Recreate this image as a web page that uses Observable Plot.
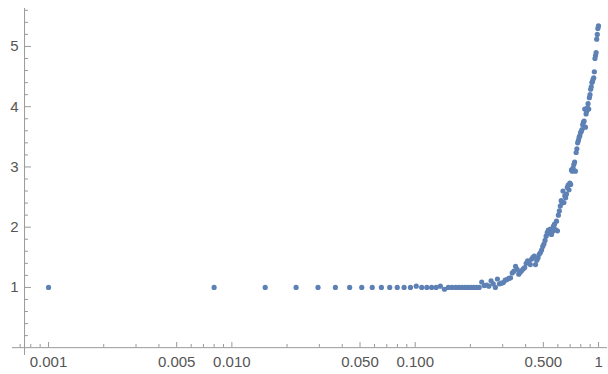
<!DOCTYPE html>
<html>
<head>
<meta charset="utf-8">
<script src="https://cdn.jsdelivr.net/npm/d3@7"></script>
<script src="https://cdn.jsdelivr.net/npm/@observablehq/plot@0.6"></script>
<style>
  html, body { margin: 0; padding: 0; background: #fff; }
  svg { display: block; }
</style>
</head>
<body>
<div id="chart"></div>
<script>
const xValues = [0.001,
  0.0080, 0.0152, 0.0224, 0.0295, 0.0367, 0.0439, 0.0511, 0.0583, 0.0654, 0.0726,
  0.0798, 0.0870, 0.0942, 0.1013, 0.1085, 0.1157, 0.1229, 0.1301, 0.1372, 0.1444,
  0.1516, 0.1588, 0.1660, 0.1731, 0.1803, 0.1875, 0.1947, 0.2019, 0.2090, 0.2162,
  0.2234, 0.2306, 0.2378, 0.2449, 0.2521, 0.2593, 0.2665, 0.2737, 0.2808, 0.2880,
  0.2952, 0.3024, 0.3096, 0.3167, 0.3239, 0.3311, 0.3383, 0.3455, 0.3526, 0.3598,
  0.3670, 0.3742, 0.3814, 0.3885, 0.3957, 0.4029, 0.4101, 0.4173, 0.4244, 0.4316,
  0.4388, 0.4460, 0.4532, 0.4603, 0.4675, 0.4747, 0.4819, 0.4891, 0.4962, 0.5034,
  0.5106, 0.5178, 0.5250, 0.5321, 0.5393, 0.5465, 0.5537, 0.5609, 0.5680, 0.5752,
  0.5824, 0.5896, 0.5968, 0.6039, 0.6111, 0.6183, 0.6255, 0.6327, 0.6398, 0.6470,
  0.6542, 0.6614, 0.6686, 0.6757, 0.6829, 0.6901, 0.6973, 0.7045, 0.7116, 0.7188,
  0.7260, 0.7332, 0.7404, 0.7475, 0.7547, 0.7619, 0.7691, 0.7763, 0.7834, 0.7906,
  0.7978, 0.8050, 0.8122, 0.8193, 0.8265, 0.8337, 0.8409, 0.8481, 0.8552, 0.8624,
  0.8696, 0.8768, 0.8840, 0.8911, 0.8983, 0.9055, 0.9127, 0.9199, 0.9270, 0.9342,
  0.9414, 0.9486, 0.9558, 0.9629, 0.9701, 0.9773, 0.9845, 0.9917, 0.9989];

const yValues = [1,
  1, 1, 1, 1, 1, 1, 1, 1, 1, 1,
  1, 1, 1, 1.02, 1, 1, 1, 1, 1.02, 0.97,
  1, 1, 1, 1, 1, 1, 1, 1, 1, 1,
  1.0, 1.09, 1.03, 1.04, 1.02, 1.11, 1.06, 1.0, 1.14, 1.06,
  1.07, 1.08, 1.12, 1.13, 1.15, 1.16, 1.24, 1.27, 1.35, 1.30,
  1.22, 1.25, 1.28, 1.31, 1.33, 1.40, 1.44, 1.42, 1.38, 1.47,
  1.50, 1.52, 1.38, 1.45, 1.49, 1.55, 1.58, 1.62, 1.68, 1.72,
  1.78, 1.85, 1.91, 1.95, 1.90, 1.97, 1.88, 1.93, 2.02, 2.05,
  1.96, 2.10, 1.94, 2.20, 2.27, 2.35, 2.44, 2.40, 2.60, 2.41,
  2.52, 2.49, 2.55, 2.66, 2.70, 2.62, 2.73, 2.71, 2.95, 2.93,
  2.98, 3.04, 3.08, 2.93, 3.24, 3.30, 3.40, 3.44, 3.49, 3.52,
  3.57, 3.59, 3.62, 3.70, 3.74, 3.76, 3.96, 3.66, 3.88, 3.93,
  3.98, 4.05, 3.96, 4.15, 4.20, 4.29, 4.33, 4.40, 4.42, 4.46,
  4.48, 4.58, 4.80, 4.85, 4.90, 5.12, 5.20, 5.30, 5.34];

const xMajorTicks = [0.001, 0.005, 0.01, 0.05, 0.1, 0.5, 1];
const xTickLabels = ["0.001", "0.005", "0.010", "0.050", "0.100", "0.500", "1"];
const xMinorTicks = [0.0007, 0.0008, 0.0009, 0.002, 0.003, 0.004, 0.006, 0.007, 0.008, 0.009,
  0.02, 0.03, 0.04, 0.06, 0.07, 0.08, 0.09, 0.2, 0.3, 0.4, 0.6, 0.7, 0.8, 0.9];
const yMajorTicks = [1, 2, 3, 4, 5];
const yTickLabels = ["1", "2", "3", "4", "5"];
const yMinorTicks = [0.2, 0.4, 0.6, 0.8, 1.2, 1.4, 1.6, 1.8, 2.2, 2.4, 2.6, 2.8,
  3.2, 3.4, 3.6, 3.8, 4.2, 4.4, 4.6, 4.8, 5.2, 5.4, 5.6];
const yAxisAt = 0.00074;

const points = xValues.map((x, i) => ({x, y: yValues[i]}));
const xLab = xMajorTicks.map((x, i) => ({x, label: xTickLabels[i]}));
const yLab = yMajorTicks.map((y, i) => ({y, label: yTickLabels[i]}));

const axisColor = "#9a9a9a";
const textColor = "#555";
const font = "Liberation Sans, Arial, sans-serif";

const chart = Plot.plot({
  width: 608,
  height: 374,
  marginLeft: 12,
  marginRight: 1,
  marginTop: 8,
  marginBottom: 19,
  style: {fontFamily: font, background: "#fff"},
  x: {type: "log", domain: [0.000636, 1.119], axis: null},
  y: {domain: [-0.13, 5.63], axis: null},
  marks: [
    Plot.ruleY([0], {stroke: axisColor, strokeWidth: 1}),
    Plot.ruleX([yAxisAt], {stroke: axisColor, strokeWidth: 1}),
    Plot.ruleY(yMajorTicks, {y: d => d, stroke: axisColor, insetLeft: 12, insetRight: 576}),
    Plot.ruleY(yMinorTicks, {y: d => d, stroke: axisColor, insetLeft: 12, insetRight: 579}),
    Plot.ruleX(xMajorTicks, {x: d => d, stroke: axisColor, insetBottom: 8, insetTop: 334}),
    Plot.ruleX(xMinorTicks, {x: d => d, stroke: axisColor, insetBottom: 8, insetTop: 336}),
    Plot.text(xLab, {x: "x", y: () => 0, text: "label", dy: 15, fill: textColor, fontSize: 15, textAnchor: "middle"}),
    Plot.text(yLab, {x: () => yAxisAt, y: "y", text: "label", dx: -6, fill: textColor, fontSize: 15, textAnchor: "end"}),
    Plot.dot(points, {x: "x", y: "y", r: 2.6, fill: "#5E81B5", stroke: "none"})
  ]
});
document.getElementById("chart").appendChild(chart);
</script>
</body>
</html>
